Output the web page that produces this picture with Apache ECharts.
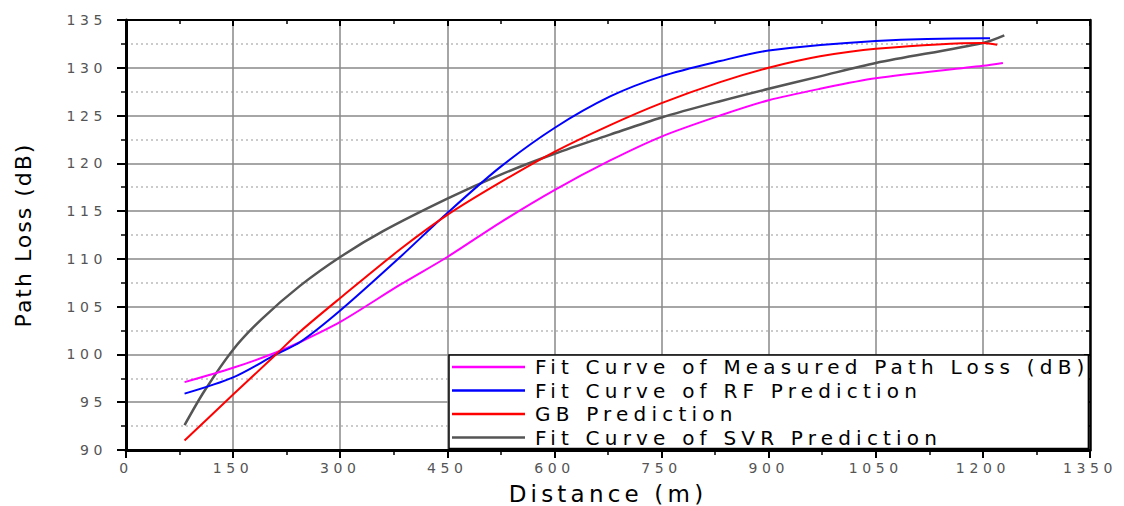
<!DOCTYPE html>
<html>
<head>
	<meta charset="utf-8">
	<title>Path Loss vs Distance</title>
	<script src="https://cdn.jsdelivr.net/npm/echarts@6/dist/echarts.min.js"></script>
	<style>
		html, body { margin: 0; padding: 0; background: #fff; }
		#chart { width: 1124px; height: 506px; }
		/* the source figure is stretched sideways, widen the text to match */
		#chart text[style*="14px"] { letter-spacing: 4.6px; }
		#chart text[style*="20px"] { letter-spacing: 5.2px; }
		#chart text[style*="23px"] { letter-spacing: 4.2px; }
		#chart text[style*="22px"] { letter-spacing: 2px; }
	</style>
</head>
<body>
	<div id="chart"></div>
	<script>
		// legend names
		var seriesNames = ['Fit Curve of Measured Path Loss (dB)', 'Fit Curve of RF Prediction', 'GB Prediction', 'Fit Curve of SVR Prediction'];

		// distance (m) / path loss (dB)
		var measuredDist = [82, 150, 210, 244, 300, 384, 450, 524, 600, 678, 750, 832, 900, 972, 1050, 1200, 1228];
		var measuredLoss = [97.1, 98.6, 100.2, 101.3, 103.4, 107.3, 110.2, 113.8, 117.2, 120.3, 122.8, 125.0, 126.6, 127.8, 128.9, 130.2, 130.5];

		var rfDist = [82, 150, 210, 244, 300, 384, 450, 524, 600, 678, 750, 832, 900, 1050, 1200, 1210];
		var rfLoss = [95.9, 97.6, 100.0, 101.3, 104.6, 110.2, 114.8, 119.6, 123.7, 127.0, 129.1, 130.7, 131.8, 132.8, 133.1, 133.1];

		var gbDist = [82, 150, 210, 244, 300, 384, 450, 524, 600, 678, 750, 832, 900, 972, 1050, 1200, 1220];
		var gbLoss = [91.0, 95.8, 100.0, 102.4, 105.9, 111.0, 114.6, 118.0, 121.2, 124.0, 126.3, 128.5, 130.0, 131.2, 132.0, 132.6, 132.4];

		var svrDist = [82, 110, 150, 190, 244, 300, 360, 450, 524, 600, 678, 750, 832, 900, 972, 1050, 1200, 1230];
		var svrLoss = [92.6, 96.2, 100.5, 103.7, 107.2, 110.2, 112.9, 116.3, 118.8, 121.0, 123.0, 124.8, 126.5, 127.8, 129.1, 130.5, 132.6, 133.4];

		var colors = ['#ff00ff', '#0000ff', '#ff0000', '#555555'];

		function zip(xs, ys) {
			var out = [];
			for (var i = 0; i < xs.length; i++) {
				out.push([xs[i], ys[i]]);
			}
			return out;
		}

		function plain(v) {
			return String(v);
		}

		var font = '"DejaVu Sans", sans-serif';
		var chart = echarts.init(document.getElementById('chart'), null, { renderer: 'svg' });

		var option = {
			animation: false,
			textStyle: { fontFamily: font },
			grid: { left: 126, right: 34, top: 20, bottom: 56, containLabel: false, outerBoundsMode: 'none' },
			legend: {
				orient: 'vertical',
				left: 449,
				top: 355,
				itemWidth: 73,
				itemHeight: 2.5,
				itemGap: 3.5,
				icon: 'rect',
				padding: [2, 186, 1, 3],
				backgroundColor: '#fff',
				borderColor: '#000',
				borderWidth: 1.5,
				borderRadius: 0,
				textStyle: { fontSize: 20, lineHeight: 20, color: '#000', fontFamily: font, padding: [0, 0, 0, 5] },
				data: seriesNames
			},
			xAxis: [{
				type: 'value',
				min: 0, max: 1350, interval: 150,
				name: 'Distance (m)',
				nameLocation: 'middle',
				nameGap: 32,
				nameTextStyle: { fontSize: 23, color: '#000' },
				axisLine: { show: true, lineStyle: { color: '#000', width: 3 } },
				axisTick: { show: true, inside: false, length: 8, lineStyle: { color: '#000', width: 2 } },
				minorTick: { show: true, splitNumber: 2, length: 5, lineStyle: { color: '#000', width: 1.5 } },
				axisLabel: { fontSize: 14, color: '#555', margin: 11, formatter: plain },
				splitLine: { show: true, lineStyle: { color: '#888', width: 1.5 } }
			}, {
				type: 'value',
				position: 'top',
				min: 0, max: 1350, interval: 150,
				axisLine: { show: true, onZero: false, lineStyle: { color: '#000', width: 2 } },
				axisTick: { show: true, inside: true, length: 6, lineStyle: { color: '#000', width: 2 } },
				minorTick: { show: true, splitNumber: 2, length: 4, lineStyle: { color: '#000', width: 1.5 } },
				axisLabel: { show: false },
				splitLine: { show: false }
			}],
			yAxis: [{
				type: 'value',
				min: 90, max: 135, interval: 5,
				name: 'Path Loss (dB)',
				nameLocation: 'middle',
				nameGap: 92,
				nameTextStyle: { fontSize: 22, color: '#000' },
				axisLine: { show: true, lineStyle: { color: '#000', width: 3 } },
				axisTick: { show: true, inside: false, length: 9, lineStyle: { color: '#000', width: 2 } },
				minorTick: { show: true, splitNumber: 2, length: 5, lineStyle: { color: '#000', width: 1.5 } },
				axisLabel: { fontSize: 14, color: '#555', margin: 19, formatter: plain },
				splitLine: { show: true, lineStyle: { color: '#888', width: 1.5 } },
				minorSplitLine: { show: true, lineStyle: { color: '#bbb', width: 1.5, type: [2, 3] } }
			}, {
				type: 'value',
				position: 'right',
				min: 90, max: 135, interval: 5,
				axisLine: { show: true, onZero: false, lineStyle: { color: '#000', width: 2.5 } },
				axisTick: { show: true, inside: true, length: 6, lineStyle: { color: '#000', width: 2 } },
				minorTick: { show: true, splitNumber: 2, length: 4, lineStyle: { color: '#000', width: 1.5 } },
				axisLabel: { show: false },
				splitLine: { show: false }
			}],
			series: [
				{ name: seriesNames[3], type: 'line', smooth: 0.3, showSymbol: false, data: zip(svrDist, svrLoss), lineStyle: { color: colors[3], width: 2.5 }, itemStyle: { color: colors[3] } },
				{ name: seriesNames[0], type: 'line', smooth: 0.3, showSymbol: false, data: zip(measuredDist, measuredLoss), lineStyle: { color: colors[0], width: 2 }, itemStyle: { color: colors[0] } },
				{ name: seriesNames[1], type: 'line', smooth: 0.3, showSymbol: false, data: zip(rfDist, rfLoss), lineStyle: { color: colors[1], width: 2 }, itemStyle: { color: colors[1] } },
				{ name: seriesNames[2], type: 'line', smooth: 0.3, showSymbol: false, data: zip(gbDist, gbLoss), lineStyle: { color: colors[2], width: 2 }, itemStyle: { color: colors[2] } }
			]
		};
		chart.setOption(option);
	</script>
</body>
</html>
